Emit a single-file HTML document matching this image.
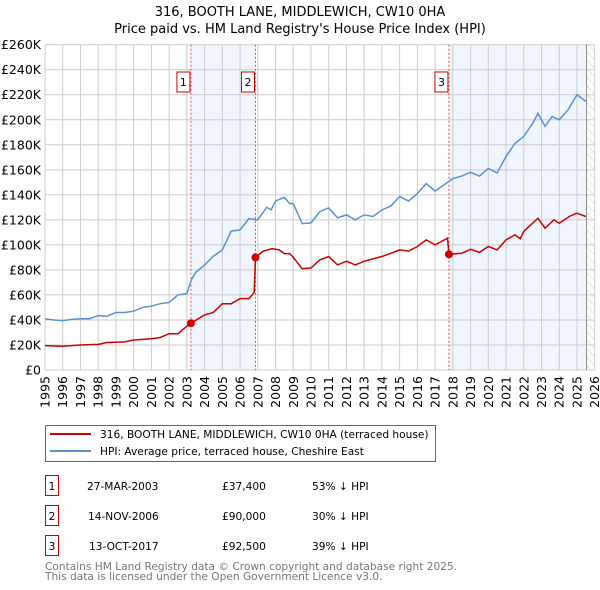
<!DOCTYPE html>
<html><head><meta charset="utf-8">
<style>
body{margin:0;background:#fff;}
svg{display:block;font-family:"DejaVu Sans","Liberation Sans",sans-serif;}
</style></head>
<body>
<svg id="chart" width="600" height="590" viewBox="0 0 600 590" xmlns="http://www.w3.org/2000/svg">
<defs>
<pattern id="hatch" width="6" height="6" patternUnits="userSpaceOnUse" patternTransform="rotate(-45)">
<line x1="0" y1="0" x2="0" y2="6" stroke="#ccc" stroke-width="1"/>
</pattern>
</defs>
<text x="300" y="16" text-anchor="middle" font-size="13">316, BOOTH LANE, MIDDLEWICH, CW10 0HA</text>
<text x="300" y="33" text-anchor="middle" font-size="13">Price paid vs. HM Land Registry's House Price Index (HPI)</text>
<g id="plot"></g>
<g>
<rect x="45.5" y="425.5" width="390" height="36" fill="#fff" stroke="#666"/>
<line x1="50" y1="434" x2="91" y2="434" stroke="#cc0000" stroke-width="2"/>
<text x="100" y="438" font-size="10.6">316, BOOTH LANE, MIDDLEWICH, CW10 0HA (terraced house)</text>
<line x1="50" y1="451" x2="91" y2="451" stroke="#5b8fd6" stroke-width="2"/>
<text x="100" y="455" font-size="10.6">HPI: Average price, terraced house, Cheshire East</text>
</g>
<g font-size="10.6">
<g>
<rect x="45.5" y="475.5" width="13" height="20" fill="#fff" stroke="#cc0000"/><text x="52" y="490" text-anchor="middle">1</text>
<text x="87" y="490">27-MAR-2003</text><text x="222" y="490">£37,400</text><text x="312" y="490">53% ↓ HPI</text></g>
<g>
<rect x="45.5" y="505.5" width="13" height="20" fill="#fff" stroke="#cc0000"/><text x="52" y="520" text-anchor="middle">2</text>
<text x="88" y="520">14-NOV-2006</text><text x="222" y="520">£90,000</text><text x="312" y="520">30% ↓ HPI</text></g>
<g>
<rect x="45.5" y="535.5" width="13" height="20" fill="#fff" stroke="#cc0000"/><text x="52" y="550" text-anchor="middle">3</text>
<text x="89" y="550">13-OCT-2017</text><text x="222" y="550">£92,500</text><text x="312" y="550">39% ↓ HPI</text></g>
</g>
<text x="45" y="570" font-size="10.6" fill="#777">Contains HM Land Registry data © Crown copyright and database right 2025.</text>
<text x="45" y="580" font-size="10.6" fill="#777">This data is licensed under the Open Government Licence v3.0.</text>
</svg>
<script>
const hpiYears=[1995,1995.5,1996,1996.5,1997,1997.5,1998,1998.5,1999,1999.5,2000,2000.5,2001,2001.5,2002,2002.5,2003,2003.25,2003.5,2004,2004.5,2005,2005.5,2006,2006.5,2007,2007.5,2007.75,2008,2008.5,2008.8,2009,2009.5,2010,2010.5,2011,2011.5,2012,2012.5,2013,2013.5,2014,2014.5,2015,2015.5,2016,2016.5,2017,2017.5,2018,2018.5,2019,2019.5,2020,2020.5,2021,2021.5,2022,2022.5,2022.8,2023.2,2023.6,2024,2024.5,2025,2025.5];
const hpiValues=[41,40,39.5,40.5,41,41,43.5,43,46,46,47,50,51,53,54,60,61,72,78,84,91,96,111,112,121,120,130,128,135,138,133,133,117,117.6,126.6,129.6,121.6,124,120,124,122.7,128,131,138.7,135,141,149,143,148,153,155,158,155,161,157.5,170.7,181,186.7,197,205,194.7,202.7,200,208,220,214.7];
const ppYears=[1995,1996,1997,1998,1998.5,1999.5,2000,2001,2001.5,2002,2002.5,2003,2003.23,2004,2004.5,2005,2005.5,2006,2006.5,2006.8,2006.87,2007.3,2007.8,2008.2,2008.5,2008.8,2009,2009.5,2010,2010.5,2011,2011.5,2012,2012.5,2013,2014,2014.5,2015,2015.5,2016,2016.5,2017,2017.7,2017.78,2018.5,2019,2019.5,2020,2020.5,2021,2021.5,2021.8,2022,2022.8,2023.2,2023.7,2024,2024.6,2025,2025.5];
const ppValues=[19.5,19,20,20.5,22,22.5,24,25,26,29,29,35,37.4,44,46,53,53,57,57,62,90,95,97,96,93,93,90,81,81.5,88,90.7,84,87,84,87,90.7,93.3,96,95,98.7,104,100,105.3,92.5,93.3,96.5,94,98.7,96,104,108,105,110.7,121.3,113.3,120,117.3,123,125.3,122.7];
const saleYears=[2003.23,2006.87,2017.78];
const saleValues=[37.4,90,92.5];
const saleLabels=["1","2","3"];
const yTicks=[0,20,40,60,80,100,120,140,160,180,200,220,240,260];
const yTickLabels=["£0","£20K","£40K","£60K","£80K","£100K","£120K","£140K","£160K","£180K","£200K","£220K","£240K","£260K"];
const xTicks=[1995,1996,1997,1998,1999,2000,2001,2002,2003,2004,2005,2006,2007,2008,2009,2010,2011,2012,2013,2014,2015,2016,2017,2018,2019,2020,2021,2022,2023,2024,2025,2026];

const X0=45,X1=594.7,Y0=370,Y1=44.7,YMIN=1995,YMAX=2026,VMAX=260,DATAEND=2025.54;
const xs=y=>X0+(y-YMIN)/(YMAX-YMIN)*(X1-X0);
const ys=v=>Y0-v/VMAX*(Y0-Y1);
const NS="http://www.w3.org/2000/svg";
const g=document.getElementById('plot');
function mk(tag,attrs,parent){const e=document.createElementNS(NS,tag);for(const k in attrs)e.setAttribute(k,attrs[k]);(parent||g).appendChild(e);return e;}

const sh1=mk('rect',{x:xs(saleYears[0]),y:Y1,width:xs(saleYears[1])-xs(saleYears[0]),height:Y0-Y1,fill:'#eef3fc',opacity:0.8});


const sh2=mk('rect',{x:xs(saleYears[2]),y:Y1,width:xs(DATAEND)-xs(saleYears[2]),height:Y0-Y1,fill:'#eef3fc',opacity:0.8});


const hz=mk('rect',{x:xs(DATAEND),y:Y1,width:X1-xs(DATAEND),height:Y0-Y1,fill:'url(#hatch)'});



yTicks.forEach((v,i)=>{
  const l=mk('line',{x1:X0,x2:X1,y1:ys(v),y2:ys(v),stroke:'#ccc','stroke-width':1});
  
  
  const t=mk('text',{x:X0-4,y:ys(v)+4.5,'text-anchor':'end','font-size':12.5});
  
  
  t.textContent=yTickLabels[i];
});
xTicks.forEach(yr=>{
  const l=mk('line',{x1:xs(yr),x2:xs(yr),y1:Y1,y2:Y0,stroke:'#ccc','stroke-width':1});
  
  
  const t=mk('text',{x:0,y:0,'text-anchor':'end','font-size':12.5,transform:`translate(${xs(yr)+4.5},${Y0+6}) rotate(-90)`});
  
  
  t.textContent=yr;
});
const dl=mk('line',{x1:xs(DATAEND),x2:xs(DATAEND),y1:Y1,y2:Y0,stroke:'#888','stroke-width':1});



saleYears.forEach((yr,i)=>{
  const l=mk('line',{x1:xs(yr),x2:xs(yr),y1:Y1,y2:Y0,stroke:'#e05050','stroke-width':1,'stroke-dasharray':'2,2'});
  
  
  const r=mk('rect',{x:xs(yr)-14,y:72,width:13,height:20,fill:'#fff',stroke:'#cc0000'});
  
  
  const t=mk('text',{x:xs(yr)-7.5,y:86,'text-anchor':'middle','font-size':11});
  
  
  t.textContent=saleLabels[i];
});

const hp=mk('polyline',{points:hpiYears.map((y,i)=>xs(y)+','+ys(hpiValues[i])).join(' '),fill:'none',stroke:'#5b8fd6','stroke-width':1.5});


const pp=mk('polyline',{points:ppYears.map((y,i)=>xs(y)+','+ys(ppValues[i])).join(' '),fill:'none',stroke:'#cc0000','stroke-width':1.5});


saleYears.forEach((yr,i)=>{
  const c=mk('circle',{cx:xs(yr),cy:ys(saleValues[i]),r:4,fill:'#cc0000'});
  
  
});
</script>
</body></html>
